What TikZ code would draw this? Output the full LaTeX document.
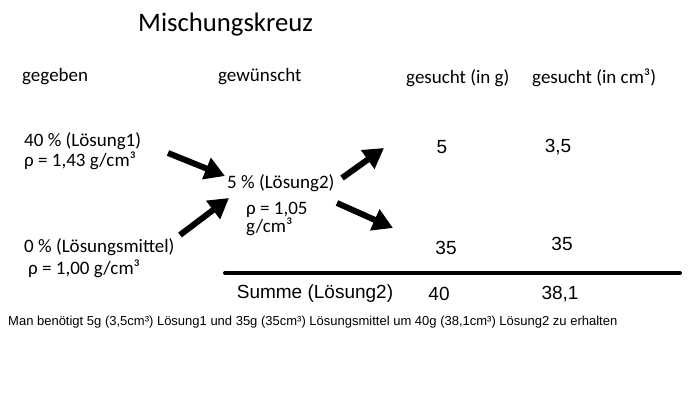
\documentclass[tikz,border=0pt]{standalone}
\usepackage{fontspec}
\setmainfont{Carlito}
\newfontfamily\arialfont{Liberation Sans}
\usetikzlibrary{arrows.meta}
\begin{document}
\begin{tikzpicture}[x=1pt,y=-1pt,
  lbl/.style={anchor=base west,inner sep=0pt,font=\fontsize{19pt}{22pt}\selectfont},
  num/.style={anchor=center,inner sep=0pt,font=\arialfont\fontsize{19pt}{22pt}\selectfont},
  bigarrow/.style={line width=6pt,-{Triangle[length=20pt,width=22pt]}}]
\path[use as bounding box,fill=white] (0,0) rectangle (689,401);
% title and headers
\node[lbl,font=\fontsize{26.7pt}{30pt}\selectfont] (title) at (138,32) {Mischungskreuz};
\node[lbl] (h1) at (22,82) {gegeben};
\node[lbl] (h2) at (218,82) {gewünscht};
\node[lbl] (h3) at (406,84) {gesucht (in g)};
\node[lbl] (h4) at (532,84) {gesucht (in cm³)};
% given
\node[lbl] (l1a) at (24,147) {40 \% (Lösung1)};
\node[lbl] (l1b) at (24,167) {ρ = 1,43 g/cm³};
\node[lbl] (l2a) at (24,253) {0 \% (Lösungsmittel)};
\node[lbl] (l2b) at (28,275) {ρ = 1,00 g/cm³};
% desired
\node[lbl] (c1) at (227,189) {5 \% (Lösung2)};
\node[lbl] (c2) at (246,215) {ρ = 1,05};
\node[lbl] (c3) at (246,233) {g/cm³};
% numbers
\node[num] (n1) at (442,147) {5};
\node[num] (n2) at (558,147) {3,5};
\node[num] (n3) at (446,248) {35};
\node[num] (n4) at (562,244) {35};
\node[num] (n5) at (439,294) {40};
\node[num] (n6) at (560,294) {38,1};
\node[num,anchor=center] (sum) at (315,294) {Summe (Lösung2)};
% sum line
\coordinate (lineL) at (225,273);
\coordinate (lineR) at (680,273);
\draw[line width=4pt,line cap=round] (lineL) -- (lineR);
% arrows
\coordinate (a1s) at (168,153);
\coordinate (a1e) at (225,176);
\coordinate (a2s) at (180,235);
\coordinate (a2e) at (229,198);
\coordinate (a3s) at (342,178);
\coordinate (a3e) at (384,148);
\coordinate (a4s) at (337,203);
\coordinate (a4e) at (393,228);
\draw[bigarrow] (a1s) -- (a1e);
\draw[bigarrow] (a2s) -- (a2e);
\draw[bigarrow] (a3s) -- (a3e);
\draw[bigarrow] (a4s) -- (a4e);
% bottom sentence
\node[anchor=base west,inner sep=0pt,font=\arialfont\fontsize{13pt}{15pt}\selectfont] (note) at (8,325) {Man benötigt 5g (3,5cm³) Lösung1 und 35g (35cm³) Lösungsmittel um 40g (38,1cm³) Lösung2 zu erhalten};
\end{tikzpicture}
\end{document}
